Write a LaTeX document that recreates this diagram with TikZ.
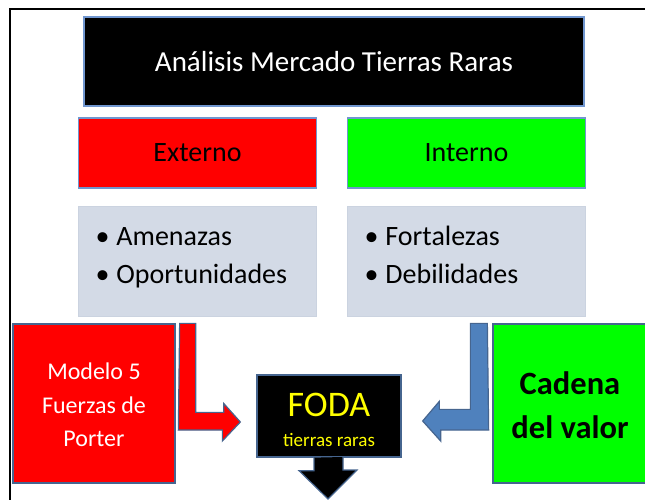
\documentclass[tikz,border=0pt]{standalone}
\usepackage{fontspec}
\setmainfont{Carlito}
\usetikzlibrary{positioning,calc}
\definecolor{boxedge}{HTML}{7096CF}
\definecolor{darkedge}{HTML}{46658F}
\definecolor{listfill}{HTML}{D3DAE6}
\definecolor{listedge}{HTML}{CBD3E0}
\definecolor{arrowblue}{HTML}{4F81BD}
\definecolor{fodayellow}{HTML}{FFFF00}
% same line box for every list entry
\newcommand{\liststrut}{\rule[-15pt]{0pt}{37pt}}

\begin{document}
\begin{tikzpicture}[
  x=1pt, y=-1pt,
  topbox/.style={draw=boxedge, line width=1.3pt, align=center, inner sep=0pt},
  listbox/.style={draw=listedge, fill=listfill, line width=1pt, align=left,
                  text width=204pt, inner xsep=17pt, minimum width=238pt,
                  minimum height=110pt, font=\fontsize{28}{38}\selectfont},
  toolbox/.style={draw=darkedge, line width=1.3pt, align=center, inner sep=0pt,
                  minimum height=159pt},
  blockarr/.style={draw=darkedge, line width=1.2pt, line join=miter}
]
  \useasboundingbox (0,0) rectangle (645,499);
  % page frame
  \draw[line width=2pt] (10,500) |- (646,9);
  \node[topbox, fill=black, text=white, minimum width=500pt, minimum height=89pt,
        font=\fontsize{29}{35}\selectfont] (title) at (334,61.5)
        {Análisis Mercado Tierras Raras};
  \node[topbox, fill=red, minimum width=238pt, minimum height=70pt,
        font=\fontsize{28}{34}\selectfont] (externo) at (197.5,153) {Externo};
  \node[topbox, fill=green, minimum width=238pt, minimum height=70pt,
        font=\fontsize{28}{34}\selectfont] (interno) at (466.5,153) {Interno};
  \node[listbox, below=17pt of externo] (amenazas)
        {\liststrut\textbullet\hspace{7pt}Amenazas\\
         \liststrut\textbullet\hspace{7pt}Oportunidades};
  \node[listbox, below=17pt of interno] (fortalezas)
        {\liststrut\textbullet\hspace{7pt}Fortalezas\\
         \liststrut\textbullet\hspace{7pt}Debilidades};
  \node[toolbox, fill=red, text=white, minimum width=162pt,
        font=\fontsize{24}{33.5}\selectfont] (porter) at (94,403.5)
        {\rule{0pt}{20pt}Modelo 5\\Fuerzas de\\Porter};
  \node[toolbox, fill=green, minimum width=154pt,
        font=\bfseries\fontsize{32.5}{44}\selectfont] (cadena) at (570,403.5)
        {\rule{0pt}{27pt}Cadena\\del valor};
  \node[toolbox, fill=black, text=fodayellow, minimum width=144pt, minimum height=82pt,
        font=\fontsize{19}{30}\selectfont] (foda) at (329,416)
        {\rule{0pt}{31pt}{\fontsize{36}{36}\selectfont FODA}\\tierras raras};
  % external tools feed FODA
  \filldraw[blockarr, fill=red] ($(porter.north east)+(4,0)$) -- ++(16,0) -- ++(0,89)
        -- ++(28,0) -- ++(0,-9) -- ($(foda.west)+(-16,6)$) -- ++(-18,19) -- ++(0,-11)
        -- ++(-44,0) -- cycle;
  % internal tools feed FODA
  \filldraw[blockarr, fill=arrowblue] ($(cadena.north west)+(-5,0)$) -- ++(-17,0)
        -- ++(0,86) -- ++(-31,0) -- ++(0,-8) -- ($(foda.east)+(21,5)$) -- ++(18,20)
        -- ++(0,-11) -- ++(48,0) -- cycle;
  % FODA result goes on
  \coordinate (next) at (328,499);
  \filldraw[blockarr, fill=black] ($(foda.south)+(-15,0)$) -- ++(0,13) -- ++(-15,0)
        -- (next) -- ++(29,-29) -- ++(-14,0) -- ++(0,-13);
\end{tikzpicture}
\end{document}
